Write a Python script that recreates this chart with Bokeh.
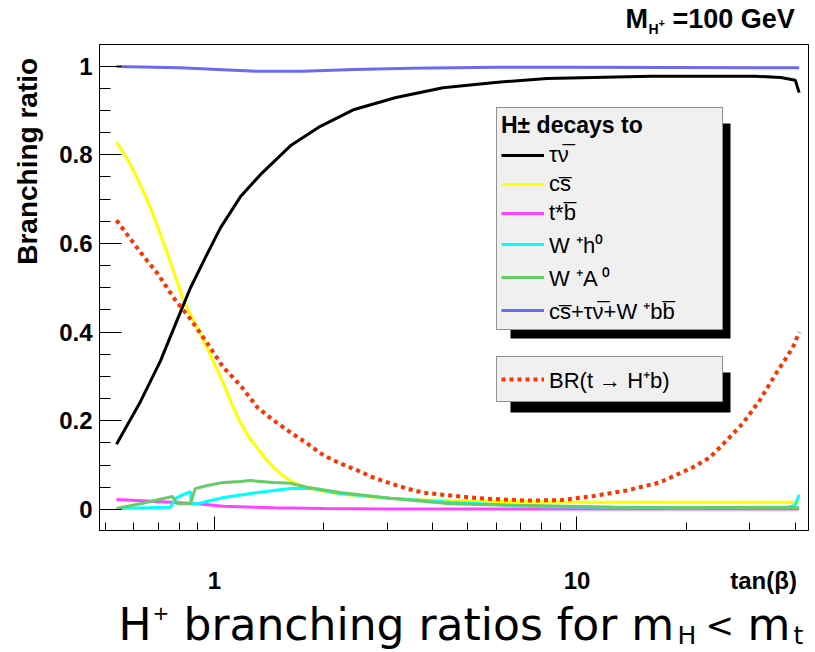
import math
from bokeh.plotting import figure
from bokeh.layouts import column
from bokeh.models import (Range1d, FixedTicker, Label, Legend, LegendItem, BoxAnnotation,
                          LogAxis, LinearAxis)
from bokeh.embed import file_html
from bokeh.resources import INLINE

# ---------------- data ----------------
tanb_tau = [0.537, 0.625, 0.710, 0.781, 0.859, 0.944, 1.039, 1.179, 1.339, 1.620, 1.959, 2.43, 3.17, 4.27, 5.94, 8.27, 16.0, 30.9, 36.5, 40.0, 41.0]
br_tau = [0.147, 0.243, 0.335, 0.418, 0.500, 0.568, 0.635, 0.705, 0.755, 0.820, 0.864, 0.902, 0.929, 0.951, 0.963, 0.972, 0.977, 0.977, 0.974, 0.968, 0.940]

tanb_cs = [0.537, 0.569, 0.598, 0.633, 0.666, 0.701, 0.742, 0.781, 0.822, 0.864, 0.915, 0.957, 1.006, 1.059, 1.114, 1.179, 1.241, 1.314, 1.382, 1.454, 1.530, 1.620, 1.704, 1.804, 1.959, 2.224, 2.606, 3.053, 3.694, 4.469, 6.136, 8.978, 41.0]
br_cs = [0.828, 0.797, 0.764, 0.722, 0.681, 0.632, 0.577, 0.525, 0.471, 0.435, 0.395, 0.363, 0.324, 0.284, 0.240, 0.196, 0.165, 0.138, 0.115, 0.095, 0.079, 0.065, 0.056, 0.049, 0.042, 0.035, 0.029, 0.025, 0.022, 0.020, 0.018, 0.017, 0.016]

tanb_tb = [0.537, 0.766, 0.915, 1.059, 1.454, 2.0, 3.0, 41.0]
br_tb = [0.0225, 0.016, 0.012, 0.007, 0.004, 0.002, 0.001, 0.001]

tanb_wh = [0.537, 0.757, 0.781, 0.822, 0.859, 0.862, 0.898, 1.059, 1.314, 1.62, 1.87, 2.22, 3.05, 4.47, 8.0, 20.0, 38.0, 39.9, 41.0]
br_wh = [0.002, 0.005, 0.025, 0.034, 0.040, 0.013, 0.013, 0.027, 0.038, 0.047, 0.047, 0.036, 0.025, 0.016, 0.006, 0.004, 0.005, 0.009, 0.033]

tanb_wa = [0.537, 0.625, 0.766, 0.791, 0.859, 0.875, 0.886, 0.957, 1.059, 1.179, 1.256, 1.454, 1.62, 1.80, 2.22, 3.05, 4.47, 5.4, 12.6, 41.0]
br_wa = [0.002, 0.013, 0.029, 0.013, 0.013, 0.035, 0.047, 0.054, 0.061, 0.063, 0.065, 0.061, 0.059, 0.050, 0.038, 0.025, 0.013, 0.011, 0.005, 0.004]

tanb_sum = [0.537, 0.8, 1.02, 1.31, 1.75, 2.43, 3.5, 5.94, 10.0, 41.0]
br_sum = [0.999, 0.996, 0.992, 0.988, 0.988, 0.992, 0.995, 0.997, 0.997, 0.996]

tanb_top = [0.537, 0.625, 0.697, 0.771, 0.859, 0.957, 1.059, 1.179, 1.314, 1.454, 1.62, 1.80, 2.0, 2.22, 2.48, 2.74, 3.05, 3.40, 3.76, 4.38, 5.4, 7.28, 8.98, 11.07, 13.73, 16.93, 20.88, 23.25, 25.88, 28.65, 31.91, 35.55, 39.36, 41.0]
br_top = [0.652, 0.58, 0.532, 0.478, 0.429, 0.374, 0.320, 0.280, 0.230, 0.201, 0.174, 0.149, 0.122, 0.104, 0.088, 0.072, 0.059, 0.047, 0.038, 0.032, 0.025, 0.020, 0.021, 0.030, 0.043, 0.061, 0.095, 0.117, 0.156, 0.194, 0.246, 0.309, 0.365, 0.40]

x_major = [1, 10]
x_labels = ["1", "10"]
x_minor = [0.5, 0.6, 0.7, 0.8, 0.9, 2, 3, 4, 5, 6, 7, 8, 9, 20, 30, 40]
y_major = [0, 0.2, 0.4, 0.6, 0.8, 1.0]
y_labels = ["0", "0.2", "0.4", "0.6", "0.8", "1"]
y_minor = [0.05 * i for i in range(1, 20)]

x_title, x_title_pos = "tan(\u03b2)", 32.7
y_title, y_title_pos = "Branching ratio", 0.785

labels_decay = ["\u03c4\u03bd\u0305", "cs\u0305", "t*b\u0305", "W \u207ah\u2070", "W \u207aA \u2070",
                "cs\u0305+\u03c4\u03bd\u0305+W \u207abb\u0305"]
legend_title = "H\u00b1 decays to"
label_top = "BR(t \u2192 H\u207ab)"

# ---------------- geometry ----------------
W = 815
HEAD_H, FOOT_H = 44, 56
MAIN_H = 652 - HEAD_H - FOOT_H
FL, FT, FR, FB = 99, 44, 808, 530  # frame edges in page pixels
TF = "Liberation Sans"
K = 0.37  # baseline correction (fraction of font size)


def fx(px):
    return px - FL


def fy(py):
    return FB - py


def blank(height):
    f = figure(width=W, height=height, x_range=Range1d(0, 1), y_range=Range1d(0, 1),
               output_backend="svg", toolbar_location=None,
               x_axis_location=None, y_axis_location=None,
               min_border_left=FL, min_border_right=W - FR, min_border_top=0, min_border_bottom=0)
    f.grid.visible = False
    f.outline_line_color = None
    f.background_fill_color = "white"
    f.border_fill_color = "white"
    return f


def lab(fig, fig_top, fig_h, text, x, base_y, size, style="normal", font=TF, align="left"):
    # x, base_y: page pixel position of the text start and its baseline
    fig.add_layout(Label(x=x - FL, y=(fig_top + fig_h - base_y) + K * size,
                         x_units="screen", y_units="screen", text=text,
                         text_font=font, text_font_size=f"{size}px", text_font_style=style,
                         text_color="black", text_align=align, text_baseline="alphabetic"))


# ---------------- header ----------------
head = blank(HEAD_H)
lab(head, 0, HEAD_H, "M", 625, 28, 27, "bold")
lab(head, 0, HEAD_H, "H", 648, 34, 14, "bold")
lab(head, 0, HEAD_H, "+", 658, 27, 11, "bold")
lab(head, 0, HEAD_H, "=100 GeV", 672, 28, 27, "bold")

# ---------------- main plot ----------------
p = figure(width=W, height=MAIN_H, x_axis_type="log",
           x_range=Range1d(0.482, 43.5), y_range=Range1d(-0.0475, 1.0485),
           output_backend="svg", toolbar_location=None,
           min_border_left=FL, min_border_right=W - FR,
           min_border_top=0, min_border_bottom=MAIN_H - (FB - FT))
p.grid.visible = False
p.outline_line_color = "black"
p.outline_line_width = 1
p.background_fill_color = "white"
p.border_fill_color = "white"


def style_labels(ax, size):
    ax.major_label_text_font = TF
    ax.major_label_text_font_size = size
    ax.major_label_text_font_style = "bold"
    ax.major_label_text_color = "black"


# x axis: ticks only
xa = p.xaxis[0]
xa.ticker = FixedTicker(ticks=x_major, minor_ticks=x_minor)
xa.major_label_overrides = {v: "" for v in x_major}
xa.major_label_text_font_size = "0px"
xa.major_label_standoff = 0
xa.major_tick_in = 14
xa.major_tick_out = 0
xa.minor_tick_in = 8
xa.minor_tick_out = 0
xa.axis_line_color = "black"
xa.major_tick_line_color = "black"
xa.minor_tick_line_color = "black"

# x axis: labels and title on one line
xl = LogAxis(ticker=FixedTicker(ticks=x_major + [x_title_pos], minor_ticks=[]))
xl.major_label_overrides = dict(zip(x_major + [x_title_pos], x_labels + [x_title]))
style_labels(xl, "24px")
xl.major_label_standoff = 36
xl.axis_line_color = None
xl.major_tick_line_color = None
xl.minor_tick_line_color = None
xl.major_tick_in = 0
xl.major_tick_out = 0
p.add_layout(xl, "below")

# y axis
ya = p.yaxis[0]
ya.ticker = FixedTicker(ticks=y_major, minor_ticks=y_minor)
ya.major_label_overrides = dict(zip(y_major, y_labels))
ya.major_tick_in = 22
ya.major_tick_out = 0
ya.minor_tick_in = 11
ya.minor_tick_out = 0
ya.major_label_standoff = 7
style_labels(ya, "24px")
ya.axis_line_color = "black"
ya.major_tick_line_color = "black"
ya.minor_tick_line_color = "black"

# y title as a rotated label of an extra axis
yl = LinearAxis(ticker=FixedTicker(ticks=[y_title_pos], minor_ticks=[]))
yl.major_label_overrides = {y_title_pos: y_title}
yl.major_label_orientation = "vertical"
style_labels(yl, "28px")
yl.major_label_standoff = 13
yl.axis_line_color = None
yl.major_tick_line_color = None
yl.minor_tick_line_color = None
yl.major_tick_in = 0
yl.major_tick_out = 0
p.add_layout(yl, "left")

# ---------------- curves ----------------
r_tb = p.line(tanb_tb, br_tb, line_color="#ff44ff", line_width=3)
r_cs = p.line(tanb_cs, br_cs, line_color="#ffff00", line_width=3)
r_wh = p.line(tanb_wh, br_wh, line_color="#00ffff", line_width=3)
r_wa = p.line(tanb_wa, br_wa, line_color="#66cc66", line_width=3)
r_sum = p.line(tanb_sum, br_sum, line_color="#6b6bf0", line_width=3)
r_tau = p.line(tanb_tau, br_tau, line_color="black", line_width=3)
r_top = p.line(tanb_top, br_top, line_color="#ff3300", line_width=4, line_dash="4 4")

# ---------------- legends with shadows ----------------
for (l, r, t, b) in [(510, 730, 123, 338), (510, 730, 372, 412)]:
    p.add_layout(BoxAnnotation(left=fx(l), right=fx(r), top=fy(t), bottom=fy(b),
                               left_units="screen", right_units="screen",
                               top_units="screen", bottom_units="screen",
                               fill_color="black", fill_alpha=1, line_color=None))

leg1 = Legend(items=[LegendItem(label=l, renderers=[r]) for l, r in
                     zip(labels_decay, [r_tau, r_cs, r_tb, r_wh, r_wa, r_sum])],
              location=(fx(496), fy(330)), title=legend_title)
leg2 = Legend(items=[LegendItem(label=label_top, renderers=[r_top])],
              location=(fx(496), fy(402)))
for lg in (leg1, leg2):
    lg.background_fill_color = "#f0f0f0"
    lg.background_fill_alpha = 1
    lg.border_line_color = "#333333"
    lg.border_line_width = 1
    lg.label_text_font = TF
    lg.label_text_font_size = "22px"
    lg.label_text_color = "black"
    lg.glyph_width = 43
    lg.label_standoff = 5
    lg.padding = 4
    lg.margin = 0
    lg.label_width = 169
leg1.title_text_font = TF
leg1.title_text_font_size = "23px"
leg1.title_text_font_style = "bold"
leg1.title_text_color = "black"
leg1.title_standoff = 3
leg1.spacing = 3
leg1.label_height = 24
leg1.glyph_height = 24
leg2.label_height = 36
leg2.glyph_height = 36
p.add_layout(leg1, "center")
p.add_layout(leg2, "center")

# ---------------- footer caption ----------------
foot = blank(FOOT_H)
FTOP = 652 - FOOT_H
CF = "DejaVu Sans"
lab(foot, FTOP, FOOT_H, "H", 118, 640, 44, font=CF)
lab(foot, FTOP, FOOT_H, "+", 152, 620, 20, font=CF)
lab(foot, FTOP, FOOT_H, "branching ratios for m", 183, 640, 44, font=CF)
lab(foot, FTOP, FOOT_H, "H", 677, 644, 25, font=CF)
lab(foot, FTOP, FOOT_H, "<", 705, 637, 34, font=CF)
lab(foot, FTOP, FOOT_H, "m", 747, 640, 44, font=CF)
lab(foot, FTOP, FOOT_H, "t", 793, 644, 25, font=CF)

layout = column(head, p, foot, spacing=0)
open("out.html", "w").write(file_html(layout, INLINE))
